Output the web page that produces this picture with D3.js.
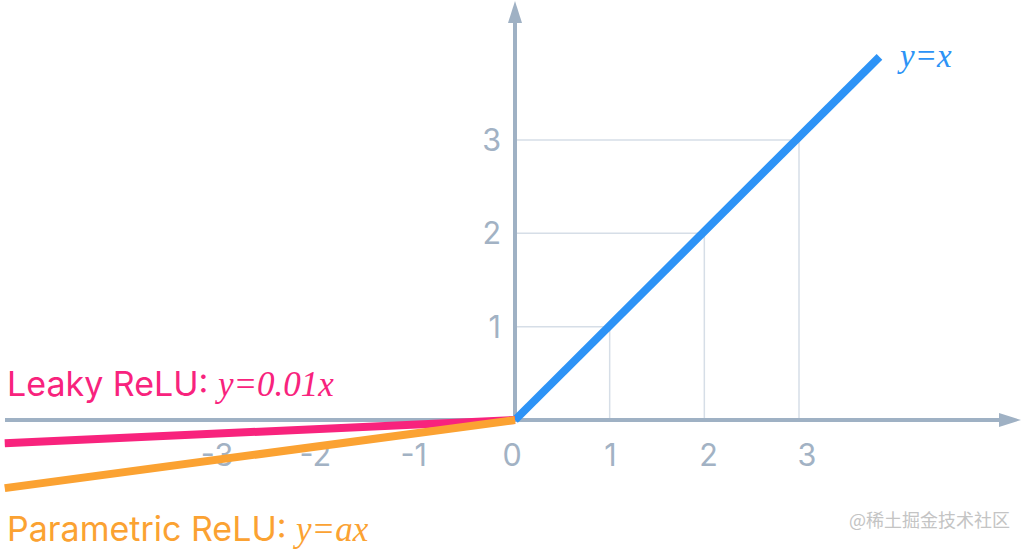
<!DOCTYPE html>
<html><head><meta charset="utf-8">
<script src="https://cdn.jsdelivr.net/npm/d3@7"></script>
<style>
html,body{margin:0;padding:0;background:#fff;}
svg{display:block;}
</style></head>
<body>
<svg id="chart" width="1025" height="549"></svg>
<script>
// ---- data ----
const xTicks = [-3, -2, -1, 0, 1, 2, 3];
const yTicks = [1, 2, 3];
const gridSteps = [1, 2, 3];
const identityLine = [[0, 0], [3.85, 3.89]];      // y = x
const leakyLine = [[-5.39, -0.25], [0, 0]];       // Leaky ReLU (exaggerated slope)
const paramLine = [[-5.39, -0.73], [0, 0]];       // Parametric ReLU
const labels = {identity: "y=x", leakyName: "Leaky ReLU: ", leakyEq: "y=0.01x", paramName: "Parametric ReLU: ", paramEq: "y=ax"};

const svg = d3.select("#chart");
const x = d3.scaleLinear().domain([0, 3]).range([515, 799]);
const y = d3.scaleLinear().domain([0, 3]).range([420, 140]);
// tick labels are spaced slightly wider than the grid in the original
const xLabel = d3.scaleLinear().domain([-3, 3]).range([217, 807]);

const axisColor = "#9fb1c4", gridColor = "#d6dee7", tickColor = "#a2b2c4";
const blue = "#2d93f6", pink = "#f8237d", orange = "#fba232";
const sans = "Inter, Lato, 'Noto Sans', sans-serif";
const serif = "'Liberation Serif', 'Times New Roman', serif";

// grid up to the line
svg.selectAll("line.gv").data(gridSteps).join("line")
  .attr("x1", d => x(d)).attr("x2", d => x(d))
  .attr("y1", y(0)).attr("y2", d => y(d))
  .attr("stroke", gridColor).attr("stroke-width", 1.5);
svg.selectAll("line.gh").data(gridSteps).join("line")
  .attr("x1", x(0)).attr("x2", d => x(d))
  .attr("y1", d => y(d)).attr("y2", d => y(d))
  .attr("stroke", gridColor).attr("stroke-width", 1.5);

// axes
svg.append("line").attr("x1", 5).attr("x2", 1002).attr("y1", y(0)).attr("y2", y(0))
  .attr("stroke", axisColor).attr("stroke-width", 4);
svg.append("path").attr("d", `M1021,${y(0)} L999,${y(0)-7} L999,${y(0)+7} Z`).attr("fill", axisColor);
svg.append("line").attr("x1", x(0)).attr("x2", x(0)).attr("y1", y(0)).attr("y2", 20)
  .attr("stroke", axisColor).attr("stroke-width", 4);
svg.append("path").attr("d", `M${x(0)},1 L${x(0)-7},23 L${x(0)+7},23 Z`).attr("fill", axisColor);

// tick labels
svg.selectAll("text.xt").data(xTicks).join("text")
  .attr("x", d => xLabel(d)).attr("y", 466)
  .attr("text-anchor", "middle")
  .attr("font-family", sans).attr("font-size", 30.5).attr("fill", tickColor)
  .text(d => d);
svg.selectAll("text.yt").data(yTicks).join("text")
  .attr("x", 501).attr("y", d => y(d) + 11)
  .attr("text-anchor", "end")
  .attr("font-family", sans).attr("font-size", 30.5).attr("fill", tickColor)
  .text(d => d);

// lines
const line = d3.line().x(d => x(d[0])).y(d => y(d[1]));
svg.append("path").datum(identityLine).attr("d", line)
  .attr("fill", "none").attr("stroke", blue).attr("stroke-width", 8);
svg.append("path").datum(leakyLine).attr("d", line)
  .attr("fill", "none").attr("stroke", pink).attr("stroke-width", 8);
svg.append("path").datum(paramLine).attr("d", line)
  .attr("fill", "none").attr("stroke", orange).attr("stroke-width", 8);

// labels
svg.append("text").attr("x", 900).attr("y", 67)
  .attr("font-family", serif).attr("font-style", "italic").attr("font-size", 33).attr("fill", blue)
  .text(labels.identity);

const t1 = svg.append("text").attr("x", 7).attr("y", 396).attr("fill", pink);
t1.append("tspan").attr("font-family", sans).attr("font-size", 34).text(labels.leakyName);
t1.append("tspan").attr("font-family", serif).attr("font-style", "italic").attr("font-size", 35).text(labels.leakyEq);

const t2 = svg.append("text").attr("x", 7).attr("y", 541).attr("fill", orange);
t2.append("tspan").attr("font-family", sans).attr("font-size", 34).text(labels.paramName);
t2.append("tspan").attr("font-family", serif).attr("font-style", "italic").attr("font-size", 35).text(labels.paramEq);

// watermark
svg.append("text").attr("x", 1010).attr("y", 527).attr("text-anchor", "end")
  .attr("font-family", "'Noto Sans CJK SC', sans-serif").attr("font-size", 18).attr("fill", "#c4c4c4")
  .text("@稀土掘金技术社区");
</script>
</body></html>
